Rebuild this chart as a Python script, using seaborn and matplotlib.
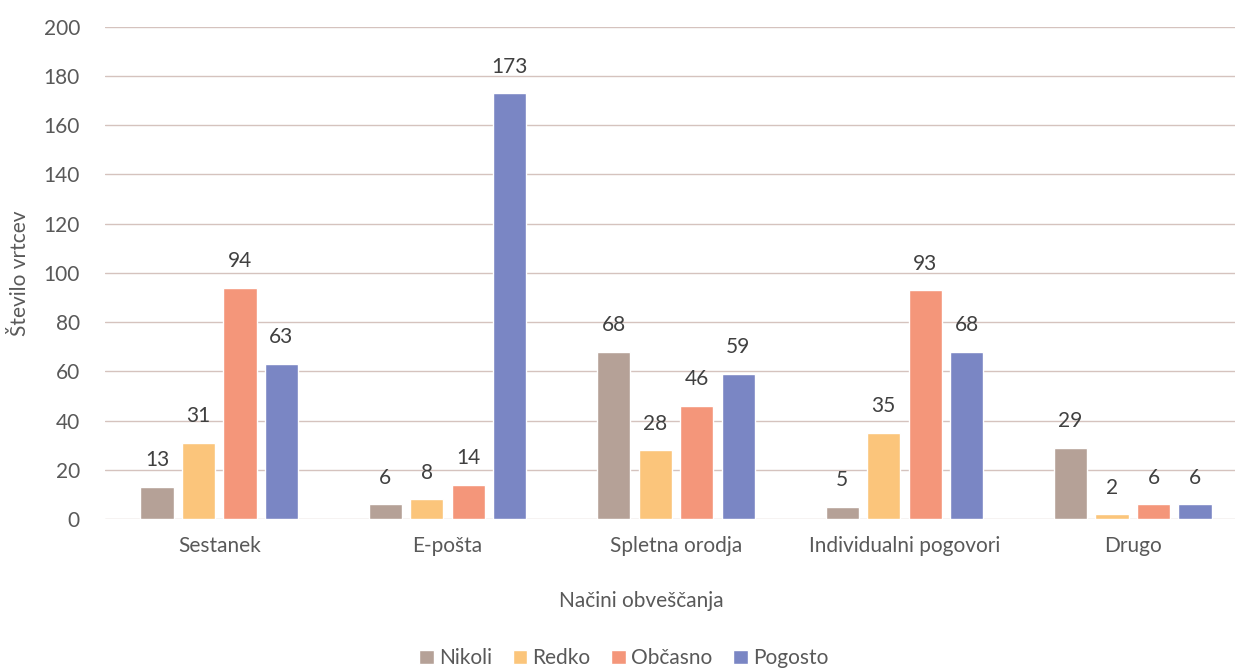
import matplotlib
matplotlib.use("Agg")
import matplotlib.pyplot as plt
import seaborn as sns
import pandas as pd

categories = ["Sestanek", "E-pošta", "Spletna orodja", "Individualni pogovori", "Drugo"]
series = ["Nikoli", "Redko", "Občasno", "Pogosto"]
nikoli = [13, 6, 68, 5, 29]
redko = [31, 8, 28, 35, 2]
obcasno = [94, 14, 46, 93, 6]
pogosto = [63, 173, 59, 68, 6]
colors = ["#B5A197", "#FBC57B", "#F4967A", "#7A86C4"]

rows = []
for s, vals in zip(series, [nikoli, redko, obcasno, pogosto]):
    for c, v in zip(categories, vals):
        rows.append({"nacin": c, "pogostost": s, "stevilo": v})
df = pd.DataFrame(rows)

sns.set_style("white")
plt.rcParams["font.family"] = ["Lato", "DejaVu Sans"]
text_color = "#595959"

fig = plt.figure(figsize=(12.35, 6.69), dpi=100)
ax = fig.add_axes([0.085, 0.224, 0.9247, 0.736])

sns.barplot(data=df, x="nacin", y="stevilo", hue="pogostost", order=categories,
            hue_order=series, palette=colors, width=0.727, gap=0.2,
            saturation=1, ax=ax, legend=True)

for cont in ax.containers:
    ax.bar_label(cont, padding=12, fontsize=15, color="#404040")

ax.set_ylim(0, 200)
ax.set_yticks(range(0, 201, 20))
ax.yaxis.grid(True, color="#D5C3BE", linewidth=1)
ax.set_axisbelow(True)
for sp in ax.spines.values():
    sp.set_visible(False)
ax.tick_params(axis="both", length=0, labelsize=15, labelcolor=text_color)
ax.tick_params(axis="x", pad=12)
ax.tick_params(axis="y", pad=18)
ax.set_xlabel("Načini obveščanja", fontsize=15, color=text_color)
ax.xaxis.set_label_coords(0.47, -0.145)
ax.set_ylabel("Število vrtcev", fontsize=15, color=text_color)
ax.yaxis.set_label_coords(-0.066, 0.5)

ax.get_legend().remove()
handles, labels = ax.get_legend_handles_labels()
fig.legend(handles, labels, loc="center", bbox_to_anchor=(0.505, 0.016), ncol=4,
           frameon=False, fontsize=15, labelcolor=text_color, handlelength=0.7,
           handleheight=0.7, handletextpad=0.25, columnspacing=1.0)

fig.savefig("out.png", dpi=100)
